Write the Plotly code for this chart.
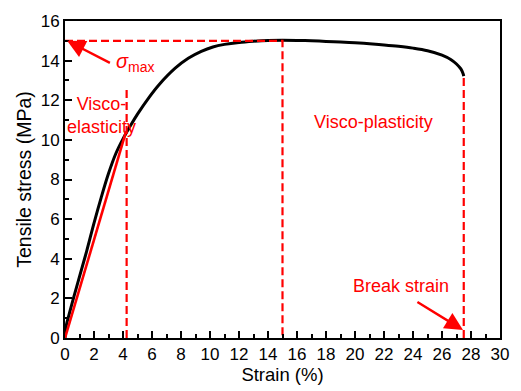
import plotly.graph_objects as go

strain = [0, 0.08, 0.25, 0.6, 1.0, 1.5, 2.0, 2.5, 3.0, 3.5, 4.0, 4.5, 5.0, 5.8, 6.5, 7.6, 8.5,
          9.4, 10.2, 11.0, 12.0, 13.0, 14.0, 15.0, 16.0, 17.0, 18.0, 19.0, 20.0, 21.0, 22.0,
          23.0, 24.0, 25.0, 26.0, 26.6, 27.0, 27.3, 27.45, 27.5]
stress = [0, 0.6, 1.1, 2.05, 3.1, 4.4, 5.8, 7.1, 8.3, 9.3, 10.05, 10.7, 11.3, 12.15, 12.8,
          13.62, 14.12, 14.47, 14.69, 14.82, 14.92, 14.98, 15.02, 15.03, 15.02, 15.0, 14.97,
          14.94, 14.9, 14.85, 14.79, 14.72, 14.63, 14.5, 14.28, 14.06, 13.83, 13.58, 13.35, 13.22]

elastic_x = [0, 4.2]
elastic_y = [0, 10.4]

sigma_max = 15.0
strain_at_max = 15.0
elastic_limit = 4.25
elastic_line_top = 12.7
break_strain = 27.5
break_stress = 13.2

red = "#ff0000"
font = "Liberation Sans, Arial, sans-serif"
dash = "8px,4px"

fig = go.Figure()
fig.add_trace(go.Scatter(x=strain, y=stress, mode="lines",
                         line=dict(color="black", width=3, shape="spline", smoothing=1.0), showlegend=False))
fig.add_trace(go.Scatter(x=elastic_x, y=elastic_y, mode="lines", line=dict(color=red, width=2.6), showlegend=False))
fig.add_trace(go.Scatter(x=[0, strain_at_max, strain_at_max], y=[sigma_max, sigma_max, 0], mode="lines",
                         line=dict(color=red, width=2.2, dash=dash), showlegend=False))
fig.add_trace(go.Scatter(x=[elastic_limit, elastic_limit], y=[0, elastic_line_top], mode="lines",
                         line=dict(color=red, width=2.2, dash=dash), showlegend=False))
fig.add_trace(go.Scatter(x=[break_strain, break_strain], y=[0, break_stress], mode="lines",
                         line=dict(color=red, width=2.2, dash=dash), showlegend=False))

ann_font = dict(family=font, size=18, color=red)
fig.add_annotation(x=0.15, y=15.0, ax=3.2, ay=13.85, xref="x", yref="y", axref="x", ayref="y",
                   showarrow=True, arrowhead=2, arrowsize=1.5, arrowwidth=2.4, arrowcolor=red, text="")
fig.add_annotation(x=3.4, y=13.9, xref="x", yref="y", text="<i>σ</i><sub>max</sub>", showarrow=False,
                   font=dict(family=font, size=20, color=red), xanchor="left")
fig.add_annotation(x=2.5, y=11.25, xref="x", yref="y", text="Visco-<br>elasticity", showarrow=False,
                   font=ann_font, align="center")
fig.add_annotation(x=21.3, y=10.9, xref="x", yref="y", text="Visco-plasticity", showarrow=False, font=ann_font)
fig.add_annotation(x=23.2, y=2.64, xref="x", yref="y", text="Break strain", showarrow=False, font=ann_font)
fig.add_annotation(x=27.45, y=0.4, ax=24.2, ay=1.86, xref="x", yref="y", axref="x", ayref="y",
                   showarrow=True, arrowhead=2, arrowsize=1.5, arrowwidth=2.4, arrowcolor=red, text="")

axis_common = dict(showgrid=False, zeroline=False, showline=True, linecolor="black", linewidth=2,
                   mirror=True, ticks="inside", ticklen=7, tickwidth=2, tickcolor="black",
                   tickfont=dict(family=font, size=17, color="black"))
fig.update_xaxes(range=[0, 30], dtick=2, tick0=0,
                 minor=dict(ticks="inside", ticklen=4, tickwidth=2, dtick=1, tickcolor="black"),
                 title=dict(text="Strain (%)", font=dict(family=font, size=18.5, color="black"), standoff=2),
                 **axis_common)
fig.update_yaxes(range=[0, 16], dtick=2, tick0=0,
                 minor=dict(ticks="inside", ticklen=4, tickwidth=2, dtick=1, tickcolor="black"),
                 title=dict(text="Tensile stress (MPa)", font=dict(family=font, size=19.5, color="black"), standoff=4),
                 **axis_common)
fig.update_layout(width=521, height=391, margin=dict(l=65, r=16, t=14, b=50),
                  plot_bgcolor="white", paper_bgcolor="white", showlegend=False)
fig.write_html("out.html")
